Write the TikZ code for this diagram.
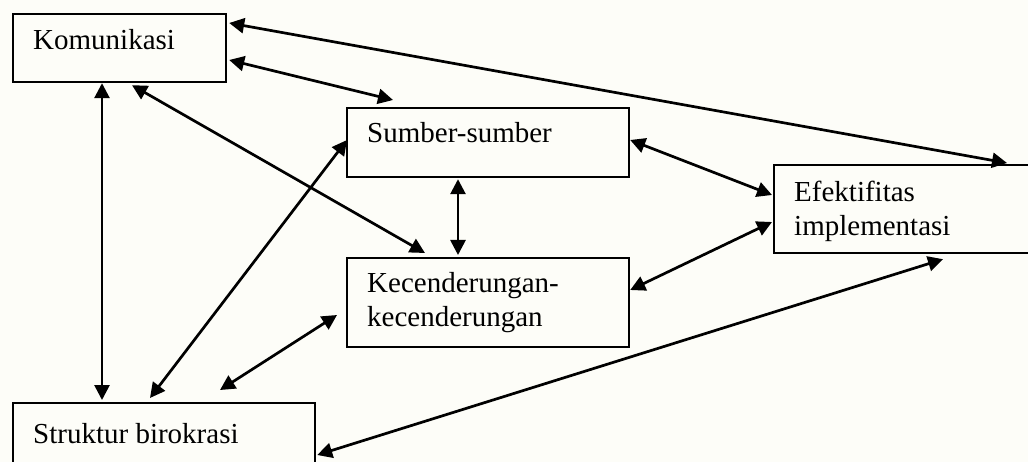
\documentclass[tikz,border=0pt]{standalone}
\usepackage{fontspec}
\setmainfont{Liberation Serif}
\usetikzlibrary{arrows.meta,calc}
\definecolor{paper}{HTML}{FDFDF8}
\newcommand\stacklines[2]{\vtop{\hbox{#1}\hbox{#2}}}
\begin{document}
\begin{tikzpicture}[x=1pt,y=-1pt,
  box/.style={draw=black,line width=2.2pt,fill=paper,inner sep=0pt,anchor=north west},
  lbl/.style={anchor=base west,inner sep=0pt,font=\fontsize{29pt}{33.5pt}\selectfont},
  link/.style={line width=2.7pt,{Triangle[length=15pt,width=15pt]}-{Triangle[length=15pt,width=15pt]}}]
  \fill[paper] (0,0) rectangle (1028,462);
  \useasboundingbox (0,0) rectangle (1028,462);
  \clip (0,0) rectangle (1028,462);

  % boxes
  \node[box,minimum width=213pt,minimum height=68pt] (kom) at (12,13) {};
  \node[box,minimum width=282pt,minimum height=69pt] (sum) at (346,107) {};
  \node[box,minimum width=282pt,minimum height=89pt] (kec) at (346,257) {};
  \node[box,minimum width=270pt,minimum height=88pt] (efe) at (773,164) {};
  \node[box,minimum width=302pt,minimum height=70pt] (str) at (12,402) {};

  % labels
  \node[lbl] (komt) at (33,50) {Komunikasi};
  \node[lbl] (sumt) at (367,143) {Sumber-sumber};
  \node[lbl] (kect) at (367,293) {\stacklines{Kecenderungan-}{kecenderungan}};
  \node[lbl] (efet) at (794,202) {\stacklines{Efektifitas}{implementasi}};
  \node[lbl] (strt) at (33,443) {Struktur birokrasi};

  % connectors
  \draw[link] ($(kom.north east)+(2,10)$) -- ($(efe.north west)+(234,-1)$);
  \draw[link] ($(kom.north east)+(2,47)$) -- ($(sum.north west)+(47,-7)$);
  \draw[link] ($(kom.south west)+(90,0)$) -- ($(str.north west)+(90,-2)$);
  \draw[link] ($(kom.south west)+(120,2)$) -- ($(kec.north west)+(79,-4)$);
  \draw[link] ($(str.north west)+(138,-4)$) -- ($(sum.north west)+(1,33)$);
  \draw[link] ($(str.north west)+(208,-12)$) -- ($(kec.north west)+(-9,58)$);
  \draw[link] ($(str.north east)+(1,53)$) -- ($(efe.south west)+(170,5)$);
  \draw[link] ($(sum.south west)+(112,1)$) -- ($(kec.north west)+(112,-2)$);
  \draw[link] ($(sum.north east)+(0,33)$) -- ($(efe.north west)+(-1,31)$);
  \draw[link] ($(kec.north east)+(0,33)$) -- ($(efe.north west)+(-1,58)$);
\end{tikzpicture}
\end{document}
